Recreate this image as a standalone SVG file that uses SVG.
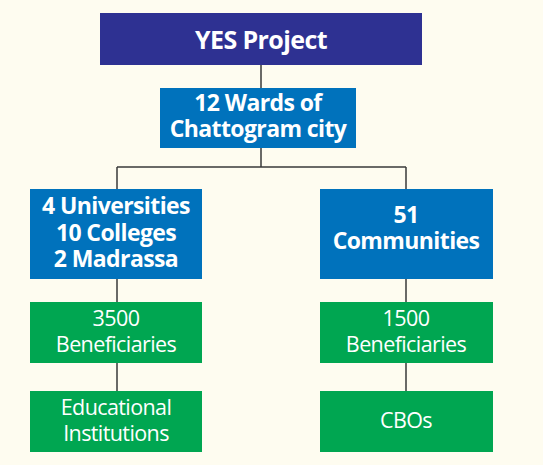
<svg xmlns="http://www.w3.org/2000/svg" width="543" height="465" viewBox="0 0 543 465">
<style>
.bg{fill:#fefcf0}
.dark{fill:#2e3192}
.blue{fill:#0072bc}
.green{fill:#00a651}
.t{font-family:"Open Sans","Noto Sans",sans-serif;fill:#ffffff;text-anchor:middle}
.b{font-weight:700;font-size:23px;letter-spacing:-0.6px}
.r{font-weight:400;font-size:21.5px;letter-spacing:-0.6px}
.c{stroke:#3a3a3a;stroke-width:1.5;fill:none}
</style>
<rect class="bg" x="0" y="0" width="543" height="465"/>
<g id="connectors">
<path class="c" d="M261 65V88M261 148V167M117 167H406M117 167V189M406 167V189M117 279V302M406 279V302M117 363V391M406 363V391"/>
</g>
<g id="yes"><rect class="dark" x="100" y="13" width="322" height="52"/><text class="t b" x="261" y="49" style="font-size:25px">YES Project</text></g>
<g id="wards"><rect class="blue" x="160" y="88" width="196" height="60"/><text class="t b" x="258" y="111">12 Wards of</text><text class="t b" x="258" y="137">Chattogram city</text></g>
<g id="univ"><rect class="blue" x="30" y="189" width="172" height="90"/><text class="t b" x="116" y="214">4 Universities</text><text class="t b" x="116" y="241">10 Colleges</text><text class="t b" x="116" y="267">2 Madrassa</text></g>
<g id="comm"><rect class="blue" x="320" y="189" width="173" height="90"/><text class="t b" x="406" y="223">51</text><text class="t b" x="406" y="249">Communities</text></g>
<g id="ben1"><rect class="green" x="30" y="302" width="172" height="61"/><text class="t r" x="116" y="326">3500</text><text class="t r" x="116" y="352">Beneficiaries</text></g>
<g id="ben2"><rect class="green" x="320" y="302" width="173" height="61"/><text class="t r" x="406" y="326">1500</text><text class="t r" x="406" y="352">Beneficiaries</text></g>
<g id="edu"><rect class="green" x="30" y="391" width="172" height="61"/><text class="t r" x="116" y="415">Educational</text><text class="t r" x="116" y="441">Institutions</text></g>
<g id="cbo"><rect class="green" x="320" y="391" width="173" height="61"/><text class="t r" x="406" y="428">CBOs</text></g>
</svg>
